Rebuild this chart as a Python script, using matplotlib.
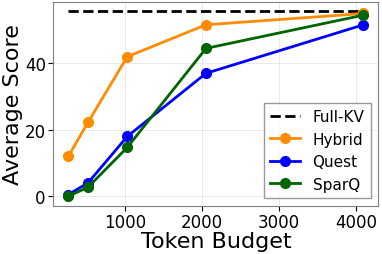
import matplotlib
matplotlib.use("Agg")
import matplotlib.pyplot as plt

budgets = [256, 512, 1024, 2048, 4096]
fullKV = 55.8
hybrid = [12.0, 22.2, 42.0, 51.6, 55.0]
quest = [0.5, 4.0, 18.0, 37.0, 51.6]
sparq = [0.0, 2.7, 14.7, 44.5, 54.5]

fig, ax = plt.subplots(figsize=(3.82, 2.55), dpi=100)
ax.plot([budgets[0], budgets[-1]], [fullKV, fullKV], "k--", lw=2, label="Full-KV")
ax.plot(budgets, hybrid, "-o", color="darkorange", lw=2, ms=7, label="Hybrid")
ax.plot(budgets, quest, "-o", color="blue", lw=2, ms=7, label="Quest")
ax.plot(budgets, sparq, "-o", color="darkgreen", lw=2, ms=7, label="SparQ")
ax.set_xticks([1000, 2000, 3000, 4000])
ax.set_yticks([0, 20, 40])
ax.tick_params(labelsize=12, pad=2)
ax.grid(True, alpha=0.3, lw=0.6)
ax.set_xlabel("Token Budget", fontsize=16, labelpad=0)
ax.set_ylabel("Average Score", fontsize=16, labelpad=1)
for s in ax.spines.values():
    s.set_color("gray")
ax.legend(fontsize=11, loc="lower right", fancybox=False, edgecolor="gray")
fig.subplots_adjust(left=0.14, right=0.99, top=0.99, bottom=0.19)
fig.savefig("out.png")
